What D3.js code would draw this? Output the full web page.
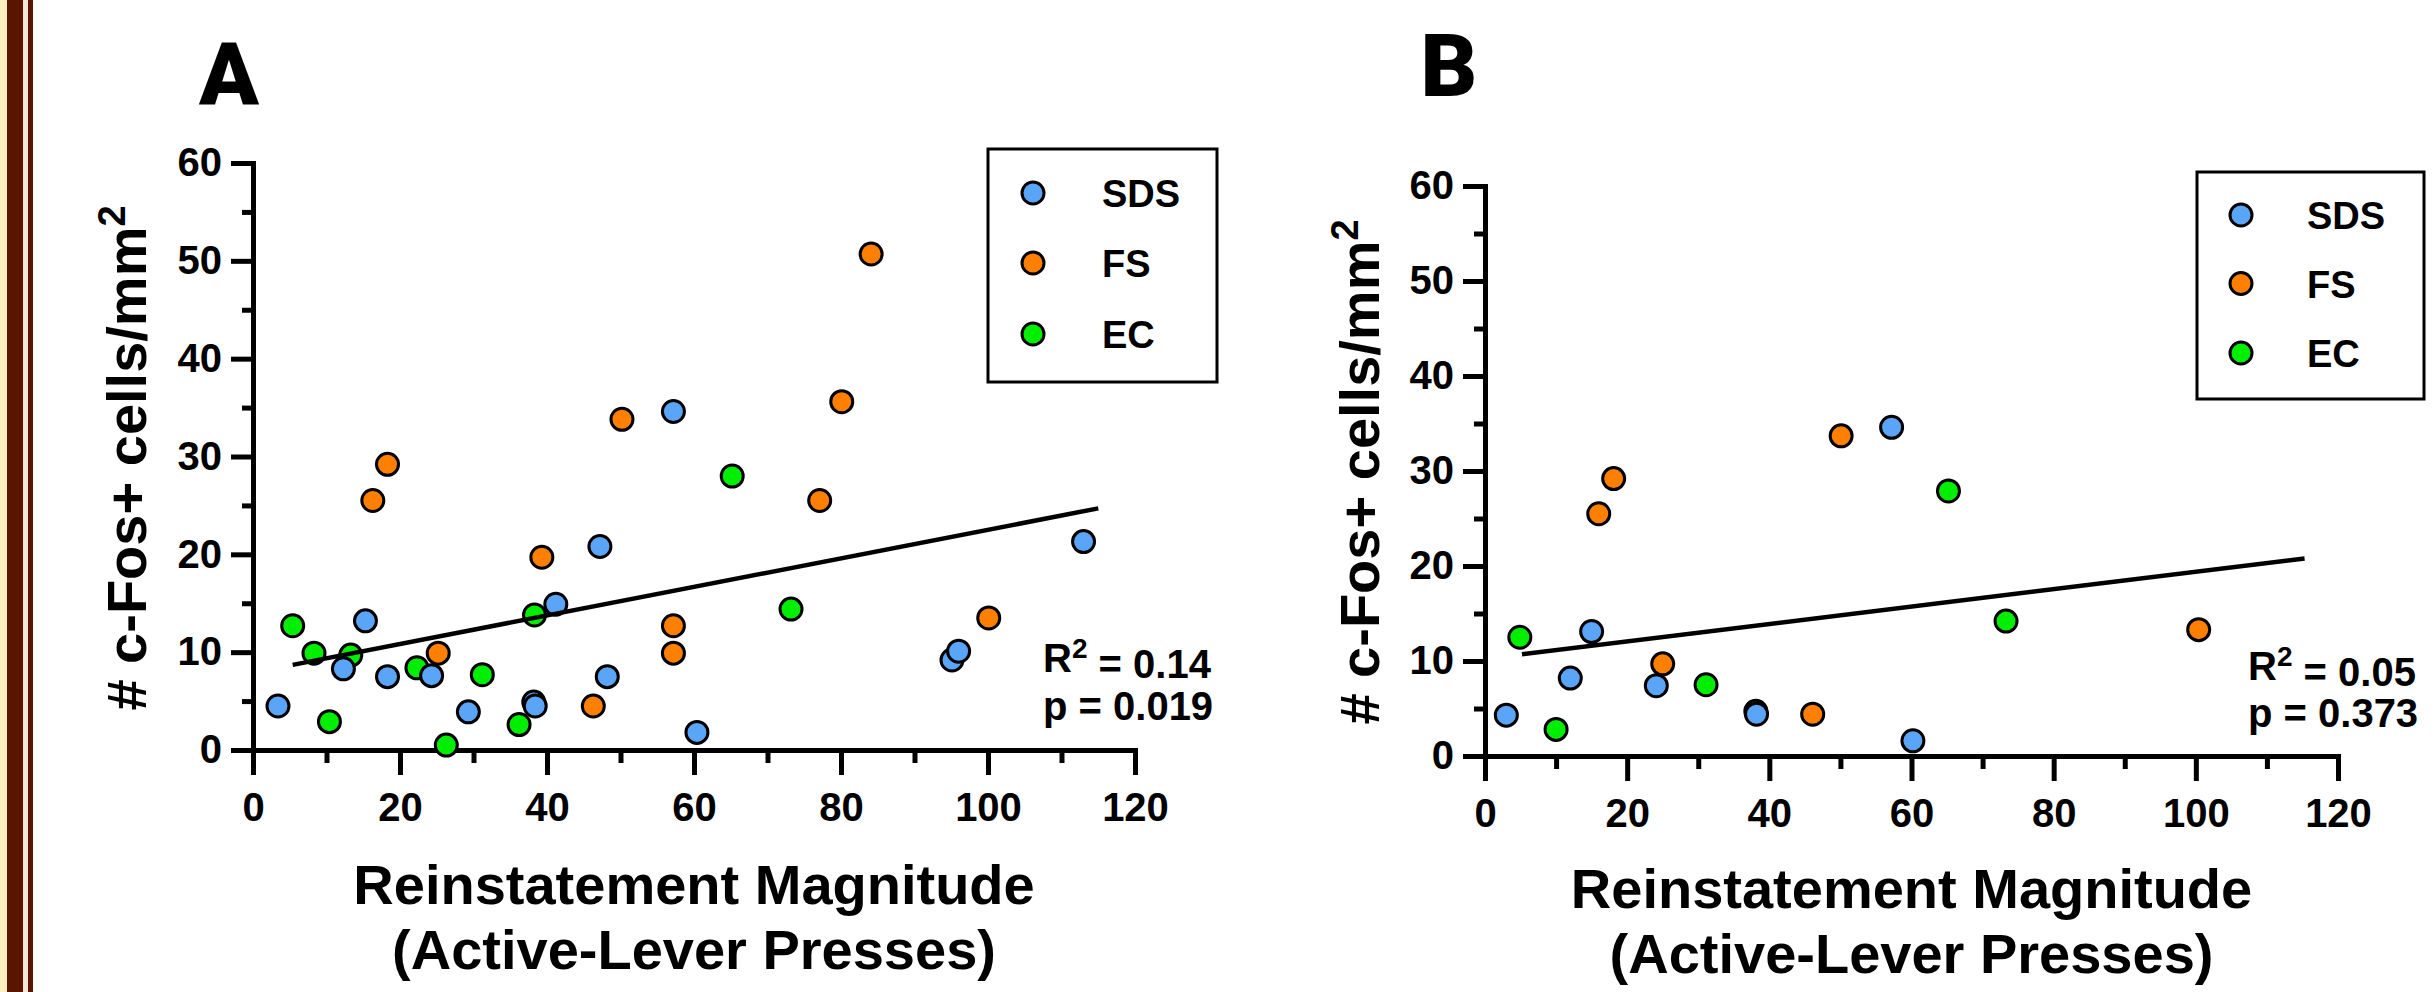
<!DOCTYPE html>
<html>
<head>
<meta charset="utf-8">
<script src="https://cdn.jsdelivr.net/npm/d3@7"></script>
<style>
  body { margin: 0; background: #fff; }
  text { font-family: "Liberation Sans", Arial, sans-serif; font-weight: bold; fill: #000; }
</style>
</head>
<body>
<div id="chart"></div>
<script>
// groups shown in the legend
const groups = ["SDS", "FS", "EC"];
const groupColors = ["#5aa5f7", "#ff8000", "#00ee00"];

// panel A : every animal  [presses, c-Fos cells/mm2]
const sdsA = [[3.4, 4.5], [12.3, 8.3], [15.3, 13.2], [18.3, 7.5], [24.3, 7.6], [29.3, 3.9],
    [38.2, 4.9], [38.4, 4.5], [41.2, 14.9], [47.2, 20.8], [48.2, 7.5], [57.2, 34.6],
    [60.4, 1.8], [95.1, 9.2], [96.0, 10.1], [113.0, 21.3]];
const fsA = [[16.3, 25.5], [18.3, 29.2], [25.2, 9.9], [39.3, 19.7], [46.3, 4.5], [50.2, 33.8],
    [57.2, 12.7], [57.2, 9.9], [77.1, 25.5], [80.1, 35.6], [84.1, 50.7], [100.1, 13.5]];
const ecA = [[5.4, 12.7], [8.3, 9.9], [10.4, 2.9], [13.3, 9.7], [22.3, 8.4], [26.3, 0.5],
    [31.2, 7.7], [36.2, 2.6], [38.3, 13.8], [65.2, 28.0], [73.2, 14.4]];
const fitA = [[5.4, 8.7], [115, 24.7]];
const statsA = ["0.14", "0.019"];

// panel B
const sdsB = [[3.0, 4.3], [12.0, 8.2], [15.0, 13.1], [24.1, 7.4], [38.1, 4.7], [38.2, 4.4],
    [57.2, 34.6], [60.2, 1.6]];
const fsB = [[16.0, 25.5], [18.1, 29.2], [25.0, 9.7], [46.1, 4.4], [50.1, 33.7], [100.4, 13.3]];
const ecB = [[4.9, 12.5], [10.0, 2.8], [31.1, 7.5], [65.2, 27.9], [73.3, 14.2]];
const fitB = [[5.2, 10.7], [115.3, 20.8]];
const statsB = ["0.05", "0.373"];

const xMajor = [0, 20, 40, 60, 80, 100, 120];
const xMinor = [10, 30, 50, 70, 90, 110];
const yMajor = [0, 10, 20, 30, 40, 50, 60];
const yMinor = [5, 15, 25, 35, 45, 55];

const W = 2436, H = 992;
const svg = d3.select("#chart").append("svg").attr("width", W).attr("height", H);

// left border strip
svg.append("rect").attr("x", 0).attr("y", 0).attr("width", 7).attr("height", H).attr("fill", "#fdeec0");
svg.append("rect").attr("x", 7).attr("y", 0).attr("width", 16).attr("height", H).attr("fill", "#5a1500");
svg.append("rect").attr("x", 23).attr("y", 0).attr("width", 5).attr("height", H).attr("fill", "#f6e6d6");
svg.append("rect").attr("x", 28).attr("y", 0).attr("width", 5).attr("height", H).attr("fill", "#5a1500");

const panels = [
    {
        letter: "A", lx: 229, ly: 105,
        x0: 253, x1: 1135, y0: 750, y1: 163,
        series: [ecA, sdsA, fsA], order: [2, 0, 1],
        fit: fitA, stats: statsA, sx: 1043, sy: [672, 720],
        leg: {x: 988, y: 149, w: 229, h: 233, cx: 1033, cy: [193, 263, 334], tx: 1102},
        ytx: 146, yty: 458, xt: [904, 969]
    },
    {
        letter: "B", lx: 1449, ly: 96,
        x0: 1485, x1: 2338, y0: 756, y1: 186,
        series: [ecB, sdsB, fsB], order: [2, 0, 1],
        fit: fitB, stats: statsB, sx: 2248, sy: [680, 727],
        leg: {x: 2197, y: 172, w: 227, h: 227, cx: 2241, cy: [215, 283.5, 353], tx: 2307},
        ytx: 1379, yty: 472, xt: [908, 973]
    }
];

panels.forEach(function (p) {
    const x = d3.scaleLinear().domain([0, 120]).range([p.x0, p.x1]);
    const y = d3.scaleLinear().domain([0, 60]).range([p.y0, p.y1]);
    const g = svg.append("g");

    // panel letter
    g.append("text").attr("x", p.lx).attr("y", p.ly).attr("text-anchor", "middle")
        .style("font-family", "'Arial Black', Roboto, 'Liberation Sans', sans-serif")
        .style("font-weight", 900).style("font-size", "88px").text(p.letter);

    // minor ticks first
    g.append("g").attr("transform", "translate(0," + p.y0 + ")")
        .call(d3.axisBottom(x).tickValues(xMinor).tickSize(13).tickFormat(""))
        .call(styleAxis);
    g.append("g").attr("transform", "translate(" + p.x0 + ",0)")
        .call(d3.axisLeft(y).tickValues(yMinor).tickSize(11).tickFormat(""))
        .call(styleAxis);
    // major ticks + labels
    g.append("g").attr("transform", "translate(0," + p.y0 + ")")
        .call(d3.axisBottom(x).tickValues(xMajor).tickSize(25).tickSizeOuter(0).tickPadding(18))
        .call(styleAxis);
    g.append("g").attr("transform", "translate(" + p.x0 + ",0)")
        .call(d3.axisLeft(y).tickValues(yMajor).tickSize(22).tickSizeOuter(0).tickPadding(9))
        .call(styleAxis);

    // axis titles
    const yt = g.append("text")
        .attr("transform", "translate(" + p.ytx + "," + p.yty + ") rotate(-90)")
        .attr("text-anchor", "middle").style("font-size", "56px");
    yt.append("tspan").text("# c-Fos+ cells/mm");
    yt.append("tspan").attr("dy", "-0.55em").style("font-size", "38px").text("2");

    const xc = (p.x0 + p.x1) / 2;
    g.append("text").attr("x", xc).attr("y", p.xt[0]).attr("text-anchor", "middle")
        .style("font-size", "56px").text("Reinstatement Magnitude");
    g.append("text").attr("x", xc).attr("y", p.xt[1]).attr("text-anchor", "middle")
        .style("font-size", "56px").text("(Active-Lever Presses)");

    // points
    p.series.forEach(function (data, i) {
        g.append("g").selectAll("circle").data(data).enter().append("circle")
            .attr("cx", function (d) { return x(d[0]); })
            .attr("cy", function (d) { return y(d[1]); })
            .attr("r", 11)
            .attr("fill", groupColors[p.order[i]])
            .attr("stroke", "#000").attr("stroke-width", 3);
    });

    // regression line
    g.append("line")
        .attr("x1", x(p.fit[0][0])).attr("y1", y(p.fit[0][1]))
        .attr("x2", x(p.fit[1][0])).attr("y2", y(p.fit[1][1]))
        .attr("stroke", "#000").attr("stroke-width", 4.5);

    // stats
    const r2 = g.append("text").attr("x", p.sx).attr("y", p.sy[0]).style("font-size", "40px");
    r2.append("tspan").text("R");
    r2.append("tspan").attr("dy", "-0.5em").style("font-size", "28px").text("2");
    r2.append("tspan").attr("dy", "0.5em").text(" = " + p.stats[0]);
    g.append("text").attr("x", p.sx).attr("y", p.sy[1]).style("font-size", "40px")
        .text("p = " + p.stats[1]);

    // legend
    const L = p.leg;
    g.append("rect").attr("x", L.x).attr("y", L.y).attr("width", L.w).attr("height", L.h)
        .attr("fill", "#fff").attr("stroke", "#000").attr("stroke-width", 3);
    groups.forEach(function (name, i) {
        g.append("circle").attr("cx", L.cx).attr("cy", L.cy[i]).attr("r", 11)
            .attr("fill", groupColors[i]).attr("stroke", "#000").attr("stroke-width", 3);
        g.append("text").attr("x", L.tx).attr("y", L.cy[i] + 14).style("font-size", "38px").text(name);
    });
});

function styleAxis(sel) {
    sel.select(".domain").attr("stroke", "#000").attr("stroke-width", 5);
    sel.selectAll(".tick line").attr("stroke", "#000").attr("stroke-width", 5);
    sel.selectAll(".tick text").style("font-size", "40px")
        .style("font-family", "'Liberation Sans', Arial, sans-serif").style("font-weight", "bold");
}
</script>
</body>
</html>
